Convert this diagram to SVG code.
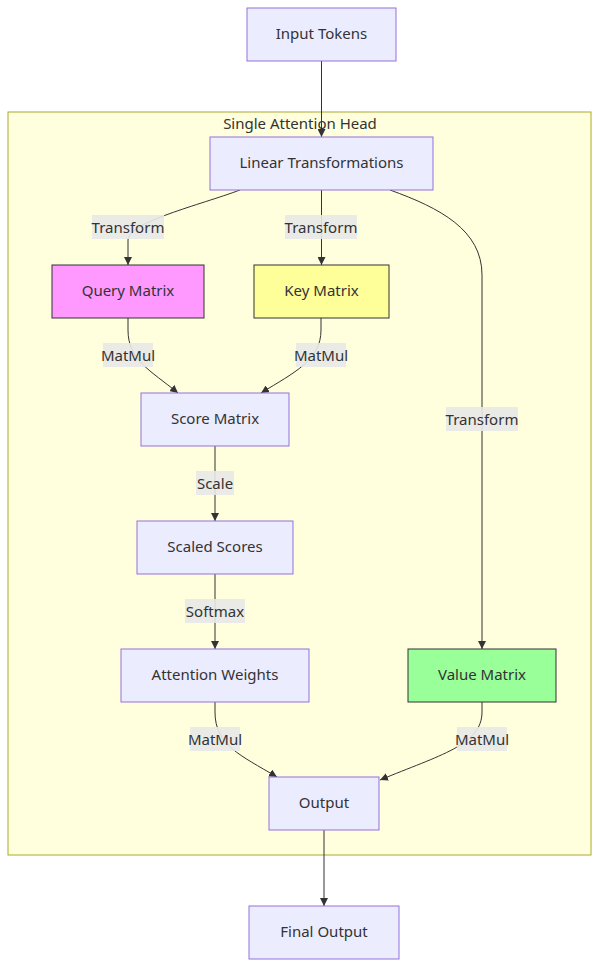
<svg xmlns="http://www.w3.org/2000/svg" width="599" height="968" viewBox="0 0 599 968">
<defs>
<style>
.n rect{fill:#ECECFF;stroke:#9370DB;stroke-width:1}
.q rect{fill:#ff99ff;stroke:#333;stroke-width:1}
.k rect{fill:#ffff99;stroke:#333;stroke-width:1}
.v rect{fill:#99ff99;stroke:#333;stroke-width:1}
text{font-family:"Noto Sans","DejaVu Sans",sans-serif;font-size:15px;fill:#333;text-anchor:middle;dominant-baseline:central}
.e path{fill:none;stroke:#333;stroke-width:1}
.lb{fill:#e8e8e8;opacity:0.9}
</style>
<marker id="ah" viewBox="0 0 10 10" refX="10" refY="5" markerWidth="8" markerHeight="8" markerUnits="userSpaceOnUse" orient="auto">
<path d="M0,0L10,5L0,10z" fill="#333"/>
</marker>
</defs>
<rect width="599" height="968" fill="#fff"/>
<g id="cluster">
<rect x="8" y="112" width="583" height="743" fill="#ffffde" stroke="#aaaa33" stroke-width="1"/>
<text x="300" y="122.5">Single Attention Head</text>
</g>
<g class="e" id="edges">
<path d="M321.5,61V137" marker-end="url(#ah)"/>
<path d="M240,190C200,205 128,222 128,240V265" marker-end="url(#ah)"/>
<path d="M321.5,190V265" marker-end="url(#ah)"/>
<path d="M390,190C440,208 482,230 482,275V649" marker-end="url(#ah)"/>
<path d="M128,318V330C128,360 150,370 178,393" marker-end="url(#ah)"/>
<path d="M321,318V330C321,360 295,372 261,393" marker-end="url(#ah)"/>
<path d="M215,446V521" marker-end="url(#ah)"/>
<path d="M215,574V649" marker-end="url(#ah)"/>
<path d="M215,702V712C215,745 240,755 277,777" marker-end="url(#ah)"/>
<path d="M482,702V712C482,745 440,755 380,780" marker-end="url(#ah)"/>
<path d="M324,830V906" marker-end="url(#ah)"/>
</g>
<g id="labels">
<rect class="lb" x="92" y="215" width="72" height="24"/><text x="128" y="226.5">Transform</text>
<rect class="lb" x="285" y="215" width="72" height="24"/><text x="321" y="226.5">Transform</text>
<rect class="lb" x="446" y="407" width="72" height="24"/><text x="482" y="418.5">Transform</text>
<rect class="lb" x="103" y="343" width="50" height="24"/><text x="128" y="354.5">MatMul</text>
<rect class="lb" x="296" y="343" width="50" height="24"/><text x="321" y="354.5">MatMul</text>
<rect class="lb" x="196" y="471" width="38" height="24"/><text x="215" y="482.5">Scale</text>
<rect class="lb" x="185" y="599" width="60" height="24"/><text x="215" y="610.5">Softmax</text>
<rect class="lb" x="190" y="727" width="50" height="24"/><text x="215" y="738.5">MatMul</text>
<rect class="lb" x="457" y="727" width="50" height="24"/><text x="482" y="738.5">MatMul</text>
</g>
<g id="input" class="n"><rect x="247" y="8" width="149" height="53"/><text x="321.5" y="33">Input Tokens</text></g>
<g id="linear" class="n"><rect x="210" y="137" width="223" height="53"/><text x="321.5" y="162">Linear Transformations</text></g>
<g id="query" class="q"><rect x="52" y="265" width="152" height="53"/><text x="128" y="290">Query Matrix</text></g>
<g id="key" class="k"><rect x="254" y="265" width="135" height="53"/><text x="321.5" y="290">Key Matrix</text></g>
<g id="score" class="n"><rect x="141" y="393" width="148" height="53"/><text x="215" y="418">Score Matrix</text></g>
<g id="scaled" class="n"><rect x="137" y="521" width="156" height="53"/><text x="215" y="546">Scaled Scores</text></g>
<g id="attn" class="n"><rect x="121" y="649" width="188" height="53"/><text x="215" y="674">Attention Weights</text></g>
<g id="value" class="v"><rect x="408" y="649" width="148" height="53"/><text x="482" y="674">Value Matrix</text></g>
<g id="output" class="n"><rect x="269" y="777" width="110" height="53"/><text x="324" y="802">Output</text></g>
<g id="final" class="n"><rect x="249" y="906" width="150" height="53"/><text x="324" y="931">Final Output</text></g>
</svg>
